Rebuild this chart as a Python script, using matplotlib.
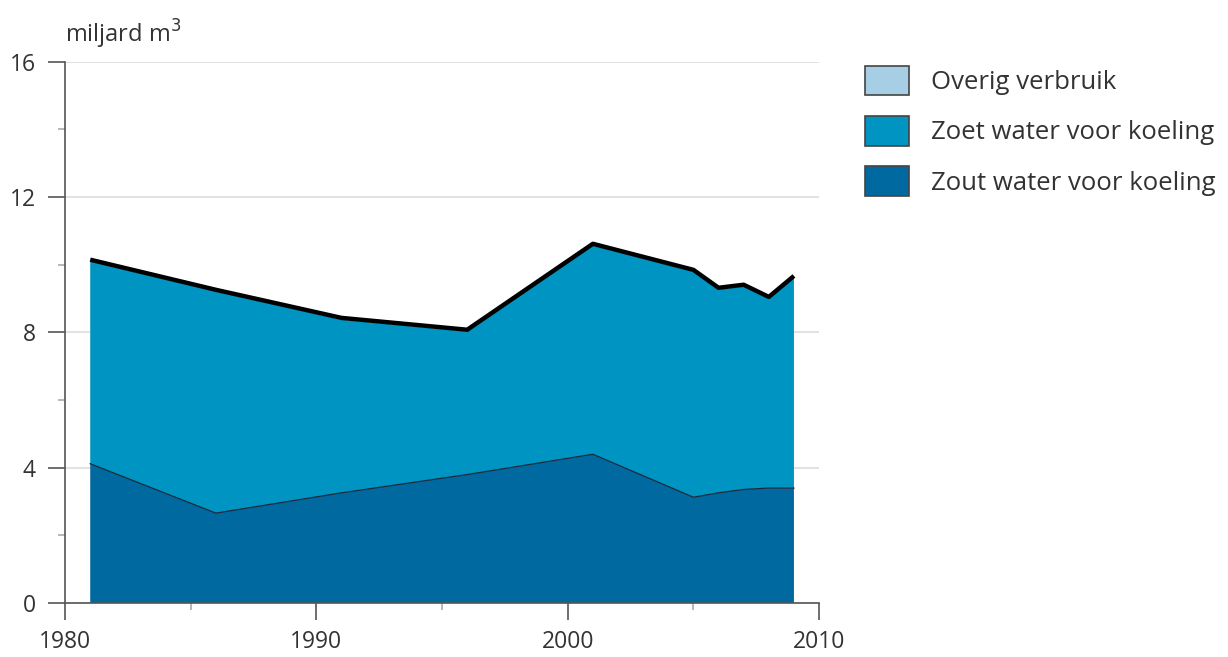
import matplotlib.pyplot as plt
from matplotlib.ticker import MultipleLocator

years = [1981, 1986, 1991, 1996, 2001, 2005, 2006, 2007, 2008, 2009]
totaal = [10.15, 9.26, 8.43, 8.08, 10.62, 9.85, 9.32, 9.41, 9.05, 9.67]
zout = [4.12, 2.66, 3.26, 3.80, 4.40, 3.13, 3.26, 3.36, 3.40, 3.40]
overig = [0.05, 0.05, 0.05, 0.05, 0.05, 0.05, 0.05, 0.05, 0.05, 0.05]
zoet = [t - z - o for t, z, o in zip(totaal, zout, overig)]

labels = ["Zout water voor koeling", "Zoet water voor koeling", "Overig verbruik"]
colors = ["#0069a0", "#0094c2", "#a6cfe6"]

plt.rcParams["font.family"] = ["Open Sans", "DejaVu Sans"]
text_color = "#333333"

fig = plt.figure(figsize=(12.28, 6.57), dpi=100)
ax = fig.add_axes([0.053, 0.082, 0.614, 0.824])

polys = ax.stackplot(years, zout, zoet, overig, colors=colors, linewidth=0)
ax.plot(years, zout, color="#1a2a3a", linewidth=0.9)
ax.plot(years, totaal, color="black", linewidth=3.2, solid_capstyle="butt")

ax.set_xlim(1980, 2010)
ax.set_ylim(0, 16)
ax.xaxis.set_major_locator(MultipleLocator(10))
ax.xaxis.set_minor_locator(MultipleLocator(5))
ax.yaxis.set_major_locator(MultipleLocator(4))
ax.yaxis.set_minor_locator(MultipleLocator(2))
ax.grid(axis="y", which="major", color="#dddddd", linewidth=1.2)
ax.set_axisbelow(True)

for s in ["top", "right"]:
    ax.spines[s].set_visible(False)
for s in ["left", "bottom"]:
    ax.spines[s].set_color("#555555")
    ax.spines[s].set_linewidth(1.2)

ax.tick_params(which="major", direction="out", length=12, width=1.2, color="#555555",
               labelsize=16.5, labelcolor=text_color)
ax.tick_params(axis="x", which="major", pad=7)
ax.tick_params(axis="y", which="major", pad=9)
ax.tick_params(which="minor", direction="out", length=5, width=1.2, color="#aaaaaa")

fig.text(0.053, 0.922, "miljard m$^3$", fontsize=17, color=text_color, va="bottom")

handles = polys[::-1]
leg = fig.legend(handles, labels[::-1], loc="upper left", bbox_to_anchor=(0.704, 0.90),
                 frameon=False, fontsize=18.5, handlelength=1.75, handleheight=1.4,
                 labelspacing=0.8, handletextpad=0.85, borderpad=0, borderaxespad=0)
for t in leg.get_texts():
    t.set_color(text_color)
for p in leg.get_patches():
    p.set_edgecolor("#444444")
    p.set_linewidth(1.2)

fig.savefig("out.png", dpi=100)
